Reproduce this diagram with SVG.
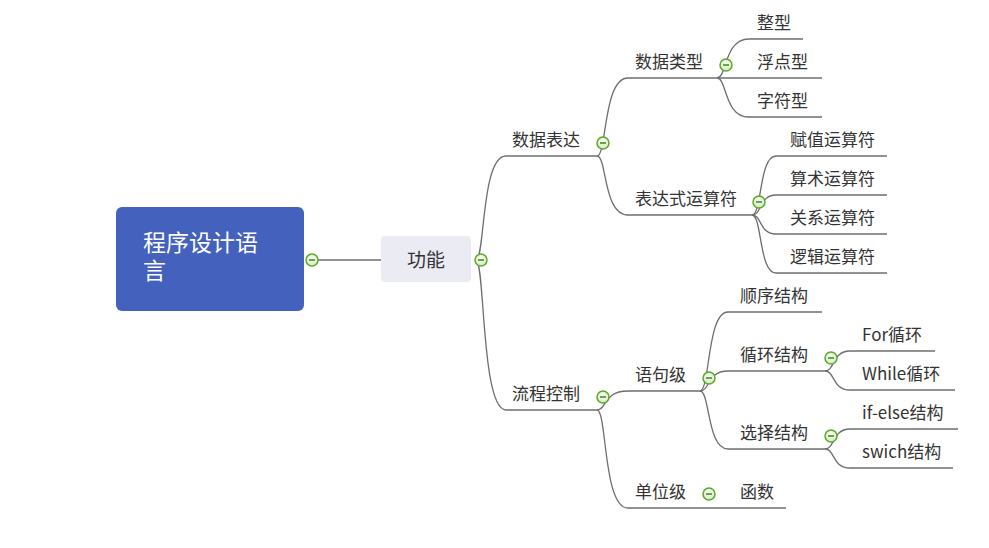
<svg xmlns="http://www.w3.org/2000/svg" width="989" height="548" viewBox="0 0 989 548">
<defs>
<radialGradient id="cg" cx="50%" cy="40%" r="60%">
<stop offset="0" stop-color="#ffffff"/>
<stop offset="1" stop-color="#cfe9b8"/>
</radialGradient>
<g id="col">
<circle cx="0" cy="0" r="6" fill="url(#cg)" stroke="#5aa82c" stroke-width="1.5"/>
<line x1="-3" y1="0" x2="3" y2="0" stroke="#4d8a2a" stroke-width="1.6"/>
</g>
</defs>
<style>
.t{font-family:"Noto Sans CJK SC","Microsoft YaHei",sans-serif;font-size:17px;fill:#333333}
.c{fill:none;stroke:#6e6e6e;stroke-width:1.3}
</style>
<rect width="989" height="548" fill="#ffffff"/>
<g id="connectors">
<path class="c" d="M318 260 L381 260"/>
<path class="c" d="M476 260 C485 260 481 156 506 156 L597 156"/>
<path class="c" d="M476 260 C485 260 481 410 506 410 L597 410"/>
<path class="c" d="M597 156 C607 156 603 78 628 78 L717 78"/>
<path class="c" d="M597 156 C607 156 603 215 628 215 L752 215"/>
<path class="c" d="M717 78 C727 78 724 39 749 39 L803 39"/>
<path class="c" d="M717 78 L822 78"/>
<path class="c" d="M717 78 C727 78 724 117 749 117 L822 117"/>
<path class="c" d="M752 215 C762 215 759 156 776 156 L887 156"/>
<path class="c" d="M752 215 C762 215 759 195 776 195 L887 195"/>
<path class="c" d="M752 215 C762 215 759 234 776 234 L887 234"/>
<path class="c" d="M752 215 C762 215 759 273 776 273 L887 273"/>
<path class="c" d="M597 410 C607 410 603 391 628 391 L700 391"/>
<path class="c" d="M597 410 C607 410 603 508 628 508 L786 508"/>
<path class="c" d="M700 391 C710 391 707 312 728 312 L822 312"/>
<path class="c" d="M700 391 C710 391 707 371 728 371 L825 371"/>
<path class="c" d="M700 391 C710 391 707 449 728 449 L825 449"/>
<path class="c" d="M825 371 C835 371 832 351 850 351 L935 351"/>
<path class="c" d="M825 371 C835 371 832 390 850 390 L955 390"/>
<path class="c" d="M825 449 C835 449 832 429 850 429 L958 429"/>
<path class="c" d="M825 449 C835 449 832 468 850 468 L953 468"/>
</g>
<g id="root">
<rect x="116" y="207" width="188" height="104" rx="6" fill="#4361bd"/>
<text class="t" style="font-size:23px;fill:#ffffff"><tspan x="143" y="251">程序设计语</tspan><tspan x="143" y="279">言</tspan></text>
<use href="#col" x="312" y="260"/>
</g>
<g id="gongneng">
<rect x="381" y="236" width="90" height="46" rx="4" fill="#ebebf3"/>
<text class="t" x="426" y="267" text-anchor="middle" style="font-size:19px">功能</text>
<use href="#col" x="481" y="260"/>
</g>
<g id="n-shujubiaoda"><text class="t" x="512" y="146">数据表达</text><use href="#col" x="603" y="143"/></g>
<g id="n-liuchengkongzhi"><text class="t" x="512" y="400">流程控制</text><use href="#col" x="603" y="397"/></g>
<g id="n-shujuleixing"><text class="t" x="635" y="68">数据类型</text><use href="#col" x="726" y="65"/></g>
<g id="n-biaodashi"><text class="t" x="635" y="205">表达式运算符</text><use href="#col" x="759" y="202"/></g>
<g id="n-yujuji"><text class="t" x="635" y="381">语句级</text><use href="#col" x="709" y="378"/></g>
<g id="n-danweiji"><text class="t" x="635" y="498">单位级</text><use href="#col" x="709" y="494"/></g>
<g id="n-zhengxing"><text class="t" x="757" y="29">整型</text></g>
<g id="n-fudianxing"><text class="t" x="757" y="68">浮点型</text></g>
<g id="n-zifuxing"><text class="t" x="757" y="107">字符型</text></g>
<g id="n-fuzhi"><text class="t" x="790" y="146">赋值运算符</text></g>
<g id="n-suanshu"><text class="t" x="790" y="185">算术运算符</text></g>
<g id="n-guanxi"><text class="t" x="790" y="224">关系运算符</text></g>
<g id="n-luoji"><text class="t" x="790" y="263">逻辑运算符</text></g>
<g id="n-shunxu"><text class="t" x="740" y="302">顺序结构</text></g>
<g id="n-xunhuan"><text class="t" x="740" y="361">循环结构</text><use href="#col" x="831" y="358"/></g>
<g id="n-xuanze"><text class="t" x="740" y="439">选择结构</text><use href="#col" x="831" y="436"/></g>
<g id="n-hanshu"><text class="t" x="740" y="498">函数</text></g>
<g id="n-for"><text class="t" x="862" y="341">For循环</text></g>
<g id="n-while"><text class="t" x="862" y="380">While循环</text></g>
<g id="n-ifelse"><text class="t" x="862" y="419">if-else结构</text></g>
<g id="n-swich"><text class="t" x="862" y="458">swich结构</text></g>
</svg>
